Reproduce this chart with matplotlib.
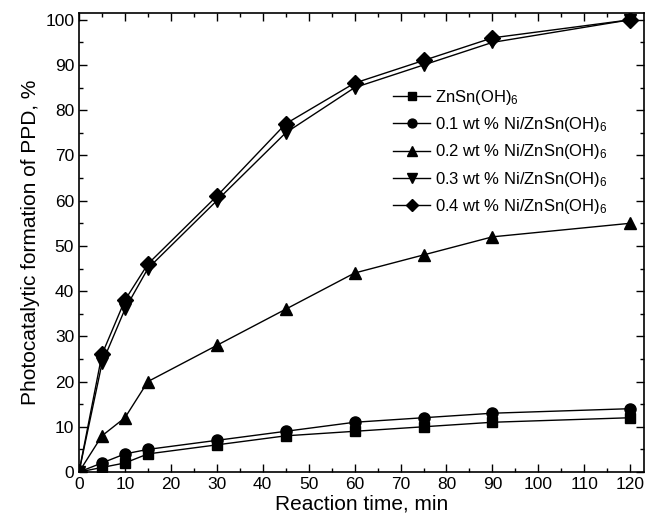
import matplotlib
matplotlib.use("Agg")
import matplotlib.pyplot as plt
from matplotlib.ticker import MultipleLocator

plt.rcParams['font.family'] = ['Liberation Sans', 'DejaVu Sans']
plt.rcParams['mathtext.fontset'] = 'custom'
plt.rcParams['mathtext.rm'] = 'Liberation Sans'
plt.rcParams['mathtext.it'] = 'Liberation Sans'

time = [0, 5, 10, 15, 30, 45, 60, 75, 90, 120]
zso = [0, 1, 2, 4, 6, 8, 9, 10, 11, 12]
ni01 = [0, 2, 4, 5, 7, 9, 11, 12, 13, 14]
ni02 = [0, 8, 12, 20, 28, 36, 44, 48, 52, 55]
ni03 = [0, 24, 36, 45, 60, 75, 85, 90, 95, 100]
ni04 = [0, 26, 38, 46, 61, 77, 86, 91, 96, 100]
labels = [r'ZnSn(OH)$_6$', r'0.1 wt % Ni/ZnSn(OH)$_6$', r'0.2 wt % Ni/ZnSn(OH)$_6$',
          r'0.3 wt % Ni/ZnSn(OH)$_6$', r'0.4 wt % Ni/ZnSn(OH)$_6$']
markers = ['s', 'o', '^', 'v', 'D']
sizes = [7, 8, 9, 9, 8]

fig = plt.figure(figsize=(6.49, 5.23), dpi=100)
ax = fig.add_axes([79/649, 51/523, 565/649, 459/523])
for y, lab, m, s in zip([zso, ni01, ni02, ni03, ni04], labels, markers, sizes):
    ax.plot(time, y, color='black', lw=1, marker=m, ms=s, label=lab)

ax.set_xlim(0, 123)
ax.set_ylim(0, 101.5)
ax.xaxis.set_major_locator(MultipleLocator(10))
ax.xaxis.set_minor_locator(MultipleLocator(5))
ax.yaxis.set_major_locator(MultipleLocator(10))
ax.yaxis.set_minor_locator(MultipleLocator(5))
ax.tick_params(which='both', direction='in', top=True, right=True, labelsize=12.5)
ax.tick_params(which='major', length=6, width=1)
ax.tick_params(which='minor', length=3, width=1)
for sp in ax.spines.values():
    sp.set_linewidth(1.2)
ax.set_xlabel('Reaction time, min', fontsize=15, labelpad=2)
ax.set_ylabel('Photocatalytic formation of PPD, %', fontsize=15, labelpad=4)
ax.legend(loc='upper left', bbox_to_anchor=(0.53, 0.87), frameon=False, fontsize=12,
          handlelength=2.2, labelspacing=0.5, handletextpad=0.3, markerscale=0.8)
fig.savefig('out.png', dpi=100)
